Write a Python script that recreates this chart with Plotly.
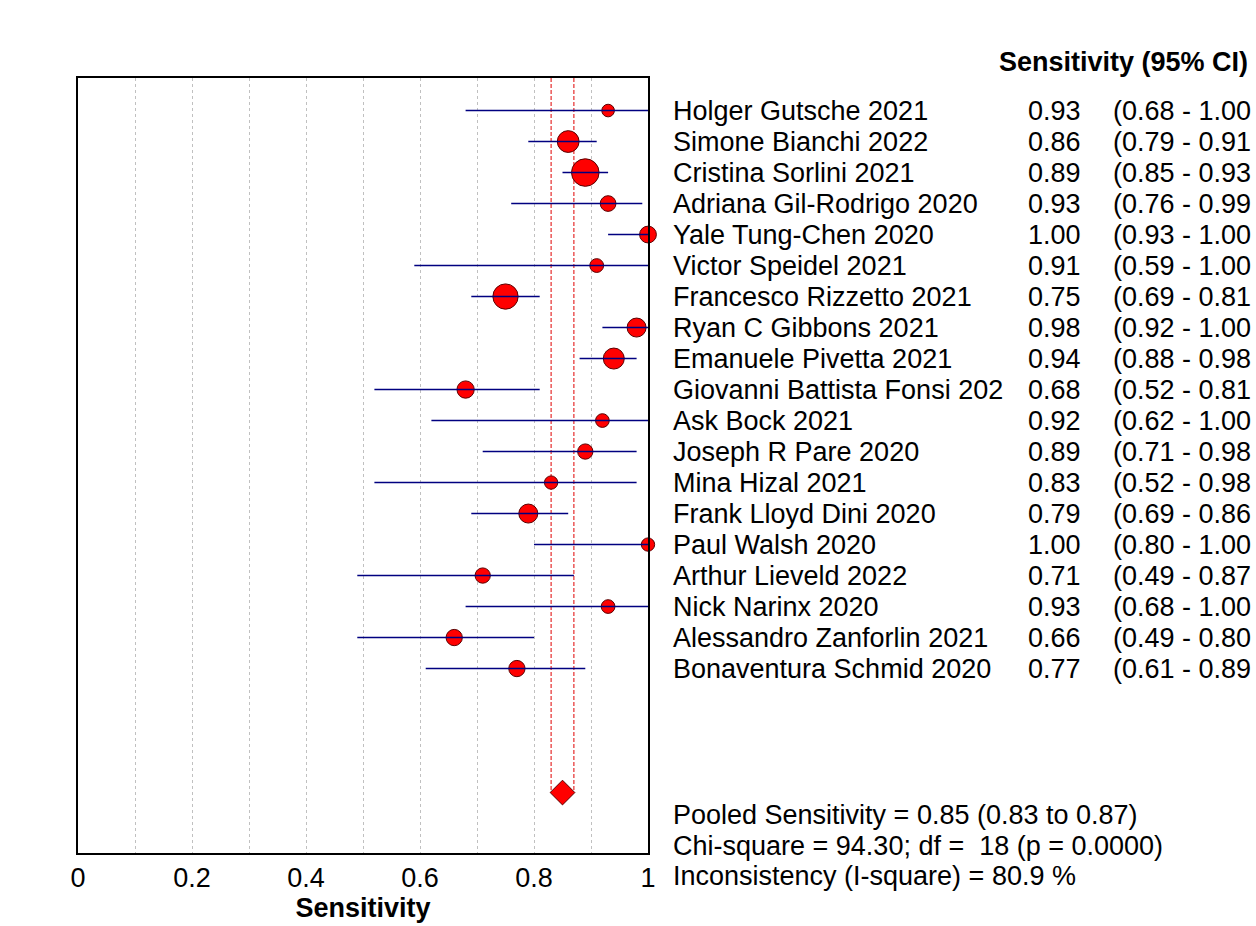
import plotly.graph_objects as go

# study data
studies = ["Holger Gutsche 2021", "Simone Bianchi 2022", "Cristina Sorlini 2021",
           "Adriana Gil-Rodrigo 2020", "Yale Tung-Chen 2020", "Victor Speidel 2021",
           "Francesco Rizzetto 2021", "Ryan C Gibbons 2021", "Emanuele Pivetta 2021",
           "Giovanni Battista Fonsi 202", "Ask Bock 2021", "Joseph R Pare 2020",
           "Mina Hizal 2021", "Frank Lloyd Dini 2020", "Paul Walsh 2020",
           "Arthur Lieveld 2022", "Nick Narinx 2020", "Alessandro Zanforlin 2021",
           "Bonaventura Schmid 2020"]
sens = [0.93, 0.86, 0.89, 0.93, 1.00, 0.91, 0.75, 0.98, 0.94, 0.68,
        0.92, 0.89, 0.83, 0.79, 1.00, 0.71, 0.93, 0.66, 0.77]
ci_lo = [0.68, 0.79, 0.85, 0.76, 0.93, 0.59, 0.69, 0.92, 0.88, 0.52,
         0.62, 0.71, 0.52, 0.69, 0.80, 0.49, 0.68, 0.49, 0.61]
ci_hi = [1.00, 0.91, 0.93, 0.99, 1.00, 1.00, 0.81, 1.00, 0.98, 0.81,
         1.00, 0.98, 0.98, 0.86, 1.00, 0.87, 1.00, 0.80, 0.89]
# marker diameters (study weights), px
weights = [12.6, 21.8, 27.6, 15.7, 16.8, 13.8, 25.3, 19, 21, 17.3,
           13.7, 15.3, 13.3, 19, 13.3, 15.3, 13.7, 16.3, 16.3]

pooled = 0.85
pooled_lo = 0.83
pooled_hi = 0.87
stats_lines = ["Pooled Sensitivity = 0.85 (0.83 to 0.87)",
               "Chi-square = 94.30; df =  18 (p = 0.0000)",
               "Inconsistency (I-square) = 80.9 %"]

FONT = "Liberation Sans, Arial, sans-serif"
FS = 27
rows = list(range(len(studies)))
pooled_row = 22

fig = go.Figure()

# pooled CI dashed lines
for v in [pooled_lo, pooled_hi]:
    fig.add_trace(go.Scatter(x=[v, v], y=[-1.05, pooled_row], mode="lines",
                             line=dict(color="#e00000", width=1, dash="4px,2px"),
                             hoverinfo="skip", showlegend=False))

# study points
fig.add_trace(go.Scatter(x=sens, y=rows, mode="markers",
                         marker=dict(size=weights, color="#ff0000", opacity=1,
                                     line=dict(color="#5a0000", width=1)),
                         cliponaxis=False, showlegend=False))

# confidence intervals
cx, cy = [], []
for lo, hi, r in zip(ci_lo, ci_hi, rows):
    cx += [lo, hi, None]
    cy += [r, r, None]
fig.add_trace(go.Scatter(x=cx, y=cy, mode="lines",
                         line=dict(color="#000080", width=1.5),
                         cliponaxis=False, showlegend=False))

# pooled diamond
fig.add_trace(go.Scatter(x=[pooled], y=[pooled_row], mode="markers",
                         marker=dict(symbol="diamond", size=19, color="#ff0000", opacity=1,
                                     line=dict(color="#5a0000", width=1)),
                         cliponaxis=False, showlegend=False))

# table text on the right
X_NAME, X_EST, X_CI, X_HEAD = 1.0403, 1.6627, 1.8122, 1.6122
for name, s, lo, hi, r in zip(studies, sens, ci_lo, ci_hi, rows):
    fig.add_annotation(x=X_NAME, y=r, xref="paper", yref="y", text=name,
                       showarrow=False, xanchor="left", yanchor="middle")
    fig.add_annotation(x=X_EST, y=r, xref="paper", yref="y", text=f"{s:.2f}",
                       showarrow=False, xanchor="left", yanchor="middle")
    fig.add_annotation(x=X_CI, y=r, xref="paper", yref="y",
                       text=f"({lo:.2f} - {hi:.2f}",
                       showarrow=False, xanchor="left", yanchor="middle")

fig.add_annotation(x=X_HEAD, y=1.0205, xref="paper", yref="paper",
                   text="<b>Sensitivity (95% CI)</b>",
                   showarrow=False, xanchor="left", yanchor="middle")

for k, line in enumerate(stats_lines):
    fig.add_annotation(x=X_NAME, y=0.0487 - k * 0.0394, xref="paper", yref="paper",
                       text=line, showarrow=False, xanchor="left", yanchor="middle")

fig.update_layout(
    width=1256, height=926,
    margin=dict(l=78, r=608, t=78, b=68),
    paper_bgcolor="white", plot_bgcolor="white",
    font=dict(family=FONT, size=FS, color="black"),
    xaxis=dict(range=[0, 1], dtick=0.2, tick0=0,
               showgrid=True, gridcolor="#c0c0c0", griddash="dot", gridwidth=1,
               minor=dict(dtick=0.1, showgrid=True, gridcolor="#c0c0c0",
                          griddash="dot", gridwidth=1),
               showline=True, linecolor="black", linewidth=1.5, mirror=True,
               zeroline=False, ticks="",
               tickfont=dict(size=FS),
               title=dict(text="<b>Sensitivity</b>", font=dict(size=FS), standoff=2)),
    yaxis=dict(range=[23.95, -1.05], showgrid=False, zeroline=False, showticklabels=False,
               showline=True, linecolor="black", linewidth=1.5, mirror=True, ticks=""),
)

fig.write_html("out.html", config={"displayModeBar": False},
               post_script="document.body.style.margin='0';")
